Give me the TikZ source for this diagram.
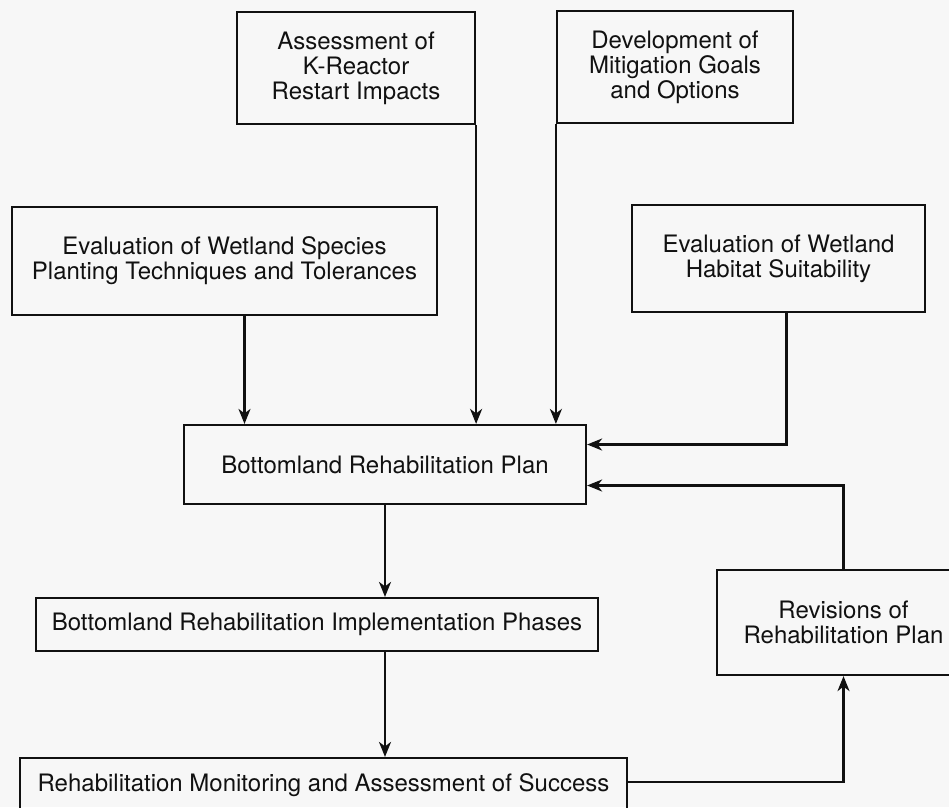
\documentclass[tikz,border=0pt]{standalone}
\usepackage{fontspec}
\setmainfont{TeX Gyre Heros}
\usetikzlibrary{arrows.meta,calc}
\definecolor{ink}{HTML}{111111}
\definecolor{paper}{HTML}{F7F7F7}

\begin{document}
\begin{tikzpicture}[x=1pt,y=-1pt,>={Stealth[length=15pt,width=12pt,inset=4.5pt]},
 blk/.style={draw=ink,line width=2.2pt,align=center,inner sep=0pt,text=ink,font=\fontsize{24}{25}\selectfont},
 link/.style={ink,line width=2.2pt}]
\fill[paper] (0,0) rectangle (949,807);
\useasboundingbox (0,0) rectangle (949,807);
% inputs at the top
\node[blk,minimum width=238pt,minimum height=112pt] (assess) at (356,68) {Assessment of\\K-Reactor\\Restart Impacts};
\node[blk,minimum width=236pt,minimum height=112pt] (devel) at (675,67) {Development of\\Mitigation Goals\\and Options};
\node[blk,minimum width=425pt,minimum height=108pt] (species) at (224.5,261) {Evaluation of Wetland Species\\Planting Techniques and Tolerances};
\node[blk,minimum width=293pt,minimum height=107pt] (habitat) at (778.5,258.5) {Evaluation of Wetland\\Habitat Suitability};
% the plan and what follows from it
\node[blk,minimum width=402pt,minimum height=79pt] (plan) at (385,464.5) {Bottomland Rehabilitation Plan};
\node[blk,minimum width=562pt,minimum height=53pt] (phases) at (317,624.5) {Bottomland Rehabilitation Implementation Phases};
\node[blk,minimum width=607pt,minimum height=54pt] (monitor) at (323.5,785) {Rehabilitation Monitoring and Assessment of Success};
\node[blk,minimum width=253pt,minimum height=105pt] (revise) at (843.5,622.5) {Revisions of\\Rehabilitation Plan};
% arrows into the plan
\coordinate (sp) at ([xshift=20pt]species.south);
\draw[link,->] (sp) -- (sp |- plan.north);
\draw[link,->] (assess.south east) -- (assess.south east |- plan.north);
\draw[link,->] (devel.south west) -- (devel.south west |- plan.north);
\coordinate (hb) at ([xshift=8pt]habitat.south);
\coordinate (in1) at ([yshift=20pt]plan.east);
\draw[link,->] (hb) |- (in1);
\coordinate (in2) at ([yshift=-21pt]plan.east);
\draw[link,->] (revise.north) |- (in2);
% down the chain and back round
\draw[link,->] (plan.south) -- (plan.south |- phases.north);
\draw[link,->] (phases.south -| plan.south) -- (monitor.north -| plan.south);
\coordinate (mo) at ([yshift=3pt]monitor.east);
\draw[link,->] (mo) -| (revise.south);
\end{tikzpicture}
\end{document}
